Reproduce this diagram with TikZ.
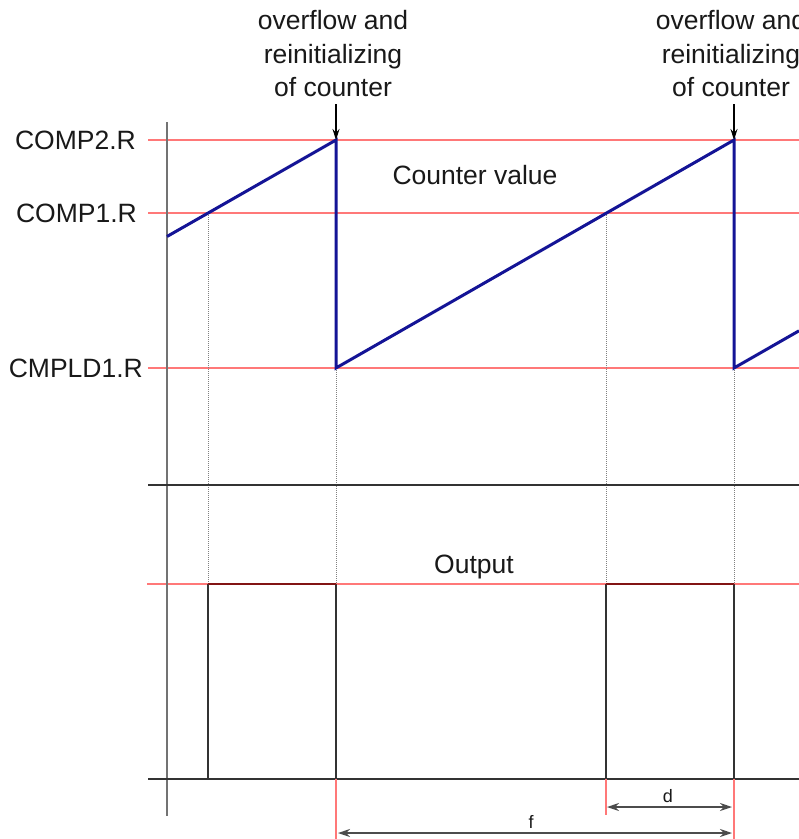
\documentclass[tikz,border=0pt]{standalone}
\usepackage{fontspec}
\setmainfont{Liberation Sans}
\usetikzlibrary{arrows.meta}
\definecolor{levelred}{RGB}{255,120,120}
\definecolor{sawblue}{RGB}{20,20,150}
\definecolor{topred}{RGB}{130,20,20}
\tikzset{
  level/.style={draw=levelred, line width=1.3pt},
  axis/.style={draw=black!55, line width=2.4pt},
  base/.style={draw=black!80, line width=2.4pt},
  saw/.style={draw=sawblue, line width=3pt, line join=miter},
  pulse/.style={draw=black!80, line width=2.6pt},
  pulsetop/.style={draw=topred, line width=2.6pt},
  guide/.style={draw=black!50, line width=1pt, densely dotted},
  dimline/.style={draw=levelred, line width=1.3pt},
  dimarrow/.style={draw=black!70, line width=1.6pt, {Stealth[length=12pt,width=8pt]}-{Stealth[length=12pt,width=8pt]}},
  pointer/.style={draw=black, line width=1.3pt, -{Stealth[length=11pt,width=7pt]}},
  lbl/.style={font=\fontsize{26.5}{33.5}\selectfont, text=black!90, inner sep=0pt},
  small/.style={font=\fontsize{18}{20}\selectfont, text=black!90, inner sep=0pt},
  note/.style={lbl, align=center}
}
\begin{document}
\begin{tikzpicture}[x=1pt,y=-1pt]
\clip (0,0) rectangle (799,839);
\fill[white] (0,0) rectangle (799,839);

% key points of the counter waveform
\coordinate (s0) at (167,236.5);
\coordinate (p1) at (336,140);
\coordinate (b1) at (336,368);
\coordinate (p2) at (734,140);
\coordinate (b2) at (734,368);
\coordinate (s3) at (799,330.8);
\coordinate (c1) at (208,213);
\coordinate (c2) at (606,213);

% reference levels
\draw[level] (148,140) -- (799,140);
\draw[level] (148,213) -- (799,213);
\draw[level] (148,368) -- (799,368);
\draw[level] (147,584) -- (799,584);

% guide lines from the waveform down to the output
\draw[guide] (c1) -- (208,584);
\draw[guide] (b1) -- (336,584);
\draw[guide] (c2) -- (606,584);
\draw[guide] (b2) -- (734,584);

% axes
\draw[axis] (167,122) -- (167,816);
\draw[base] (148,485) -- (799,485);
\draw[base] (148,779) -- (799,779);

% counter sawtooth
\draw[saw] (s0) -- (p1) -- (b1) -- (p2) -- (b2) -- (s3);

% output pulses
\draw[pulse] (208,779) -- (208,584);
\draw[pulse] (336,584) -- (336,779);
\draw[pulse] (208,779) -- (336,779);
\draw[pulsetop] (208,584) -- (336,584);
\draw[pulse] (606,779) -- (606,584);
\draw[pulse] (734,584) -- (734,779);
\draw[pulse] (606,779) -- (734,779);
\draw[pulsetop] (606,584) -- (734,584);

% dimension markers
\coordinate (fL) at (336,779);
\coordinate (dL) at (606,779);
\coordinate (dR) at (734,779);
\draw[dimline] (fL) -- (336,839);
\draw[dimline] (dL) -- (606,815);
\draw[dimline] (dR) -- (734,839);
\coordinate (da) at (607,807);
\coordinate (db) at (732,807);
\coordinate (fa) at (338,833);
\coordinate (fb) at (732,833);
\draw[dimarrow] (da) -- (db);
\draw[dimarrow] (fa) -- (fb);
\node[small] (dlab) at (668,796) {d};
\node[small] (flab) at (531,822) {f};

% level labels
\node[lbl, anchor=east] (comp2) at (136,140) {COMP2.R};
\node[lbl, anchor=east] (comp1) at (137,213) {COMP1.R};
\node[lbl, anchor=east] (cmpld) at (143,368) {CMPLD1.R};
\node[lbl] (cval) at (475,175) {Counter value};
\node[lbl] (outl) at (474,567) {Output};

% overflow annotations
\node[note, anchor=south] (ov1) at (333,97) {overflow and\\reinitializing\\of counter};
\node[note, anchor=south] (ov2) at (731,97) {overflow and\\reinitializing\\of counter};
\coordinate (a1) at (336,104);
\coordinate (a2) at (734,104);
\draw[pointer] (a1) -- (p1);
\draw[pointer] (a2) -- (p2);
\end{tikzpicture}
\end{document}
